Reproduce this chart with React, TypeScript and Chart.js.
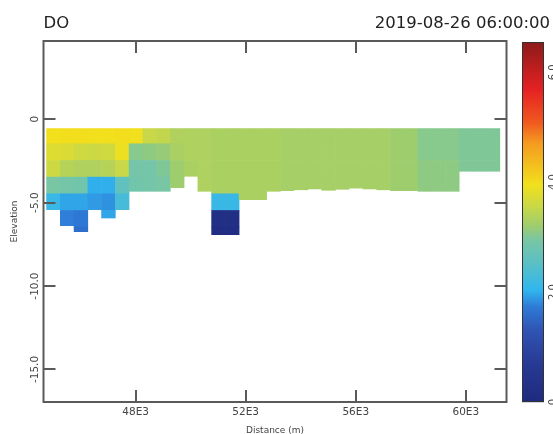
import React, { useEffect, useRef } from 'react';
import { Chart, registerables } from 'chart.js';

Chart.register(...registerables);

// ---------- text ----------
const TITLE = 'DO';
const TIMESTAMP = '2019-08-26 06:00:00';
const X_LABEL = 'Distance (m)';
const Y_LABEL = 'Elevation';

// ---------- axes ----------
const X_MIN = 44650;
const X_MAX = 61480;
const Y_MIN = -16.95;
const Y_MAX = 4.69;
const X_TICKS = [48000, 52000, 56000, 60000];
const X_TICK_LABELS = ['48E3', '52E3', '56E3', '60E3'];
const Y_TICKS = [0, -5, -10, -15];
const Y_TICK_LABELS = ['0', '-5.0', '-10.0', '-15.0'];
const CBAR_MIN = 0;
const CBAR_MAX = 6.55;
const CBAR_TICKS = [0, 2, 4, 6];
const CBAR_TICK_LABELS = ['0', '2.0', '4.0', '6.0'];

// ---------- grid of the profile ----------
// column edges along the river (m)
const COL_EDGES = [
  44750, 45250, 45750, 46250, 46750, 47250, 47750, 48250, 48750, 49250, 49750,
  50250, 50750, 51250, 51750, 52250, 52750, 53250, 53750, 54250, 54750, 55250,
  55750, 56250, 56750, 57250, 57750, 58250, 58750, 59250, 59750, 60250, 60750, 61250,
];
// layer edges (elevation, top to bottom)
const LAYER_EDGES = [-0.54, -1.45, -2.45, -3.45, -4.45, -5.45, -6.45, -7.0];
// bed elevation for each column
const BED = [
  -5.44, -6.4, -6.76, -5.44, -5.94, -5.44, -4.34, -4.34, -4.34, -4.12, -3.44,
  -4.34, -6.94, -6.94, -4.84, -4.84, -4.34, -4.3, -4.25, -4.2, -4.28, -4.22,
  -4.15, -4.2, -4.25, -4.3, -4.3, -4.34, -4.34, -4.34, -3.14, -3.14, -3.14,
];
// DO values per layer (one value for each column)
const LAYER_1 = [
  3.95, 3.97, 3.97, 3.95, 3.95, 3.97, 3.93, 3.55, 3.5, 3.35, 3.33,
  3.33, 3.31, 3.31, 3.31, 3.31, 3.31, 3.27, 3.27, 3.27, 3.27, 3.27,
  3.27, 3.27, 3.27, 3.2, 3.2, 3.05, 3.05, 3.05, 3.0, 3.0, 3.0,
];
const LAYER_2 = [
  3.75, 3.72, 3.62, 3.6, 3.62, 3.9, 3.05, 3.1, 3.15, 3.3, 3.33,
  3.33, 3.31, 3.31, 3.31, 3.31, 3.31, 3.27, 3.27, 3.27, 3.27, 3.27,
  3.27, 3.27, 3.27, 3.2, 3.2, 3.05, 3.05, 3.05, 3.0, 3.0, 3.0,
];
const LAYER_3 = [
  3.6, 3.4, 3.35, 3.35, 3.4, 3.55, 2.9, 2.9, 3.0, 3.2, 3.3,
  3.33, 3.31, 3.31, 3.31, 3.31, 3.31, 3.27, 3.27, 3.27, 3.27, 3.27,
  3.27, 3.27, 3.27, 3.2, 3.2, 3.1, 3.1, 3.1, 3.0, 3.0, 3.0,
];
const LAYER_4 = [
  2.95, 2.9, 2.85, 2.0, 2.0, 2.6, 2.85, 2.9, 2.95, 3.2, null,
  3.33, 3.31, 3.31, 3.31, 3.31, 3.31, 3.27, 3.27, 3.27, 3.27, 3.27,
  3.27, 3.27, 3.27, 3.2, 3.2, 3.1, 3.1, 3.1, null, null, null,
];
const LAYER_5 = [
  2.15, 1.95, 1.95, 1.9, 1.85, 2.3, null, null, null, null, null,
  null, 2.15, 2.15, 3.31, 3.31, null, null, null, null, null, null,
  null, null, null, null, null, null, null, null, null, null, null,
];
const LAYER_6 = [
  null, 1.75, 1.7, null, 1.95, null, null, null, null, null, null,
  null, 0.2, 0.2, null, null, null, null, null, null, null, null,
  null, null, null, null, null, null, null, null, null, null, null,
];
const LAYER_7 = [
  null, null, 1.6, null, null, null, null, null, null, null, null,
  null, 0.15, 0.15, null, null, null, null, null, null, null, null,
  null, null, null, null, null, null, null, null, null, null, null,
];
const LAYERS = [LAYER_1, LAYER_2, LAYER_3, LAYER_4, LAYER_5, LAYER_6, LAYER_7];

// ---------- colour map ----------
const CMAP_STOPS: [number, string][] = [
  [0, '#1e2a7e'], [0.108, '#283a94'], [0.2, '#2f55b4'], [0.264, '#2f7ad6'],
  [0.311, '#30b6ef'], [0.386, '#5bc0c4'], [0.45, '#78c6a4'], [0.486, '#9ccc70'],
  [0.542, '#c8d848'], [0.603, '#f2e01c'], [0.72, '#f49a20'], [0.775, '#f05a20'],
  [0.867, '#e52222'], [1, '#8c1a1a'],
];

function hexToRgb(h: string): number[] {
  const n = parseInt(h.slice(1), 16);
  return [(n >> 16) & 255, (n >> 8) & 255, n & 255];
}

function cmap(f: number): string {
  const t = Math.max(0, Math.min(1, f));
  for (let i = 0; i < CMAP_STOPS.length - 1; i++) {
    const [f0, c0] = CMAP_STOPS[i];
    const [f1, c1] = CMAP_STOPS[i + 1];
    if (t <= f1) {
      const k = (t - f0) / (f1 - f0);
      const a = hexToRgb(c0);
      const b = hexToRgb(c1);
      const r = a.map((v, j) => Math.round(v + (b[j] - v) * k));
      return `rgb(${r[0]},${r[1]},${r[2]})`;
    }
  }
  return CMAP_STOPS[CMAP_STOPS.length - 1][1];
}

const AXIS_COLOR = '#5a5a5a';
const TEXT_COLOR = '#444';
const FONT = '"DejaVu Sans", sans-serif';

const profilePlugin = {
  id: 'profile',
  beforeDatasetsDraw(chart: any) {
    const { ctx, chartArea, scales } = chart;
    const xs = scales.x;
    const ys = scales.y;
    ctx.save();
    ctx.beginPath();
    ctx.rect(chartArea.left, chartArea.top, chartArea.right - chartArea.left, chartArea.bottom - chartArea.top);
    ctx.clip();
    for (let c = 0; c < COL_EDGES.length - 1; c++) {
      const x0 = xs.getPixelForValue(COL_EDGES[c]);
      const x1 = xs.getPixelForValue(COL_EDGES[c + 1]);
      for (let l = 0; l < LAYERS.length; l++) {
        const v = LAYERS[l][c];
        if (v === null || v === undefined) continue;
        const top = LAYER_EDGES[l];
        const bot = Math.max(LAYER_EDGES[l + 1], BED[c]);
        if (bot >= top) continue;
        const y0 = ys.getPixelForValue(top);
        const y1 = ys.getPixelForValue(bot);
        ctx.fillStyle = cmap((v - CBAR_MIN) / (CBAR_MAX - CBAR_MIN));
        const lastCol = c === COL_EDGES.length - 2;
        const lastRow = l === LAYERS.length - 1 || bot === BED[c];
        ctx.fillRect(x0, y0, x1 - x0 + (lastCol ? 0 : 0.6), y1 - y0 + (lastRow ? 0 : 0.6));
      }
    }
    ctx.restore();
  },
  afterDraw(chart: any) {
    const { ctx, chartArea, scales } = chart;
    const xs = scales.x;
    const ys = scales.y;
    const { left, right, top, bottom } = chartArea;
    ctx.save();

    // frame
    ctx.strokeStyle = AXIS_COLOR;
    ctx.lineWidth = 2;
    ctx.strokeRect(left, top, right - left, bottom - top);

    // inward tick marks
    const TL = 12;
    ctx.beginPath();
    X_TICKS.forEach((v) => {
      const px = Math.round(xs.getPixelForValue(v));
      ctx.moveTo(px, bottom);
      ctx.lineTo(px, bottom - TL);
      ctx.moveTo(px, top);
      ctx.lineTo(px, top + TL);
    });
    Y_TICKS.forEach((v) => {
      const py = Math.round(ys.getPixelForValue(v));
      ctx.moveTo(left, py);
      ctx.lineTo(left + TL, py);
      ctx.moveTo(right, py);
      ctx.lineTo(right - TL, py);
    });
    ctx.stroke();

    // x tick labels
    ctx.fillStyle = TEXT_COLOR;
    ctx.font = `10.5px ${FONT}`;
    ctx.textAlign = 'center';
    ctx.textBaseline = 'middle';
    X_TICKS.forEach((v, i) => {
      ctx.fillText(X_TICK_LABELS[i], xs.getPixelForValue(v), bottom + 10.5);
    });

    // y tick labels (rotated)
    Y_TICKS.forEach((v, i) => {
      ctx.save();
      ctx.translate(left - 8, ys.getPixelForValue(v));
      ctx.rotate(-Math.PI / 2);
      ctx.fillText(Y_TICK_LABELS[i], 0, 0);
      ctx.restore();
    });

    // axis titles
    ctx.font = `9px ${FONT}`;
    ctx.save();
    ctx.translate(15, (top + bottom) / 2);
    ctx.rotate(-Math.PI / 2);
    ctx.fillText(Y_LABEL, 0, 0);
    ctx.restore();
    ctx.textBaseline = 'top';
    ctx.fillText(X_LABEL, (left + right) / 2, bottom + 24);

    // header
    ctx.fillStyle = '#222';
    ctx.font = `16.5px ${FONT}`;
    ctx.textBaseline = 'alphabetic';
    ctx.textAlign = 'left';
    ctx.fillText(TITLE, left, 28);
    ctx.textAlign = 'right';
    ctx.fillText(TIMESTAMP, 550, 28);

    // colour bar
    const cbL = 522;
    const cbW = 22;
    const cbT = top + 1;
    const cbB = bottom;
    const cbPix = (v: number) => cbB - ((v - CBAR_MIN) / (CBAR_MAX - CBAR_MIN)) * (cbB - cbT);
    for (let py = cbT; py < cbB; py++) {
      const f = (cbB - (py + 0.5)) / (cbB - cbT);
      ctx.fillStyle = cmap(f);
      ctx.fillRect(cbL, py, cbW, 1.2);
    }
    ctx.strokeStyle = '#333';
    ctx.lineWidth = 1;
    ctx.strokeRect(cbL + 0.5, cbT + 0.5, cbW - 1, cbB - cbT - 1);
    ctx.fillStyle = TEXT_COLOR;
    ctx.font = `10px ${FONT}`;
    ctx.textAlign = 'center';
    ctx.textBaseline = 'top';
    CBAR_TICKS.forEach((v, i) => {
      ctx.save();
      ctx.translate(548, cbPix(v));
      ctx.rotate(-Math.PI / 2);
      ctx.fillText(CBAR_TICK_LABELS[i], 0, 0);
      ctx.restore();
    });

    ctx.restore();
  },
};

export default function App() {
  const canvasRef = useRef<HTMLCanvasElement | null>(null);

  useEffect(() => {
    const canvas = canvasRef.current;
    if (!canvas) return;
    const centres: { x: number; y: number }[] = [];
    for (let c = 0; c < COL_EDGES.length - 1; c++) {
      for (let l = 0; l < LAYERS.length; l++) {
        if (LAYERS[l][c] !== null) {
          centres.push({ x: (COL_EDGES[c] + COL_EDGES[c + 1]) / 2, y: (LAYER_EDGES[l] + LAYER_EDGES[l + 1]) / 2 });
        }
      }
    }
    const chart = new Chart(canvas, {
      type: 'scatter',
      data: {
        datasets: [
          { label: 'DO', data: centres, pointRadius: 0, pointHoverRadius: 0, showLine: false },
        ],
      },
      options: {
        responsive: false,
        maintainAspectRatio: false,
        devicePixelRatio: 1,
        animation: false,
        events: [],
        layout: { padding: { left: 0, right: 46.5, top: 41, bottom: 0 } },
        plugins: { legend: { display: false }, tooltip: { enabled: false }, title: { display: false } },
        scales: {
          x: {
            type: 'linear',
            min: X_MIN,
            max: X_MAX,
            ticks: { display: false },
            grid: { display: false },
            border: { display: false },
            afterFit: (s: any) => { s.height = 32; },
          },
          y: {
            type: 'linear',
            min: Y_MIN,
            max: Y_MAX,
            ticks: { display: false },
            grid: { display: false },
            border: { display: false },
            afterFit: (s: any) => { s.width = 43.5; },
          },
        },
      },
      plugins: [profilePlugin],
    } as any);
    return () => chart.destroy();
  }, []);

  return (
    <div style={{ position: 'fixed', left: 0, top: 0, width: 553, height: 434, background: '#fff' }}>
      <canvas ref={canvasRef} width={553} height={434} style={{ display: 'block' }} />
    </div>
  );
}
